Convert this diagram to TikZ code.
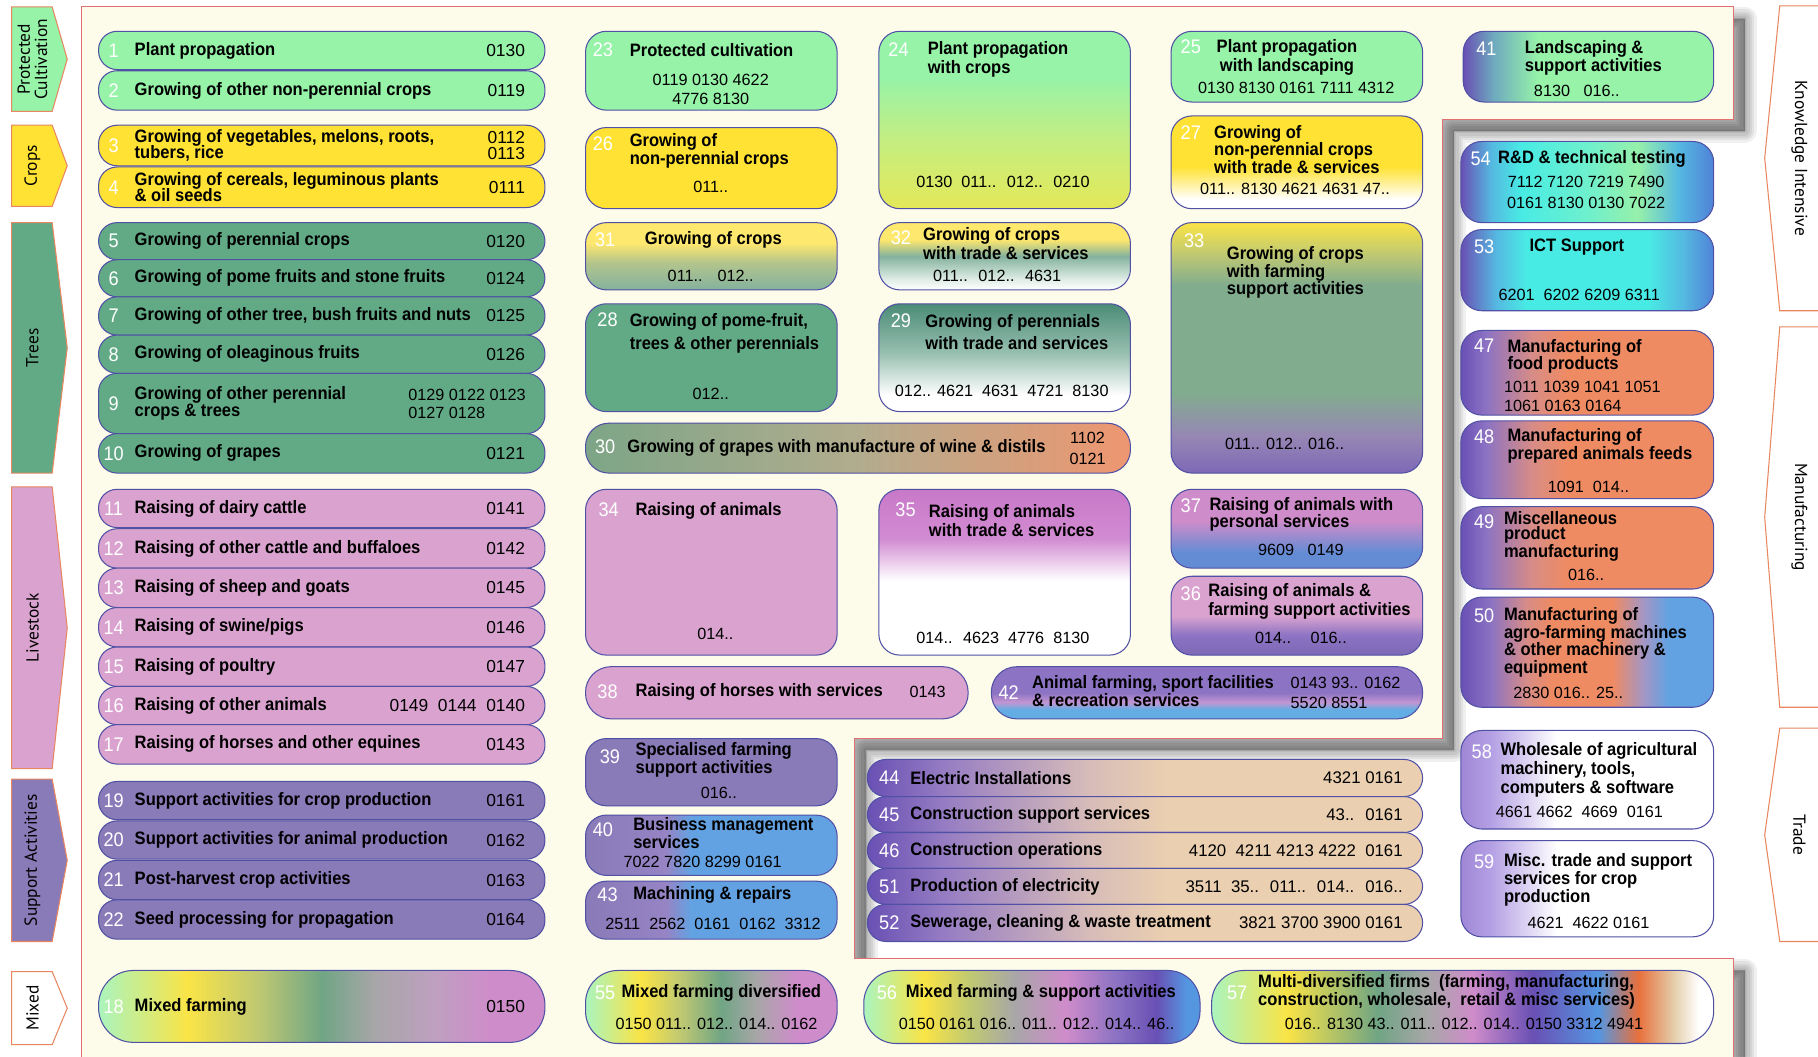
\documentclass[tikz,border=0pt]{standalone}
\usepackage{fontspec}
\setmainfont{Liberation Sans}[FakeStretch=0.92]
\newfontfamily\codefam{Liberation Sans}
\newfontfamily\tabfam{PT Sans}

\definecolor{lgreen}{RGB}{150,243,168}
\definecolor{cyel}{RGB}{255,226,52}
\definecolor{tgreen}{RGB}{98,170,134}
\definecolor{cpink}{RGB}{218,163,207}
\definecolor{cpurp}{RGB}{137,122,184}
\definecolor{cream}{RGB}{253,251,233}
\definecolor{ctan}{RGB}{234,207,176}
\definecolor{corange}{RGB}{239,139,99}
\definecolor{cblue}{RGB}{99,162,226}
\definecolor{ccyan}{RGB}{72,235,228}
\definecolor{bord}{RGB}{80,80,165}
\definecolor{pred}{RGB}{226,112,112}
\definecolor{tabor}{RGB}{232,135,95}
\definecolor{mint}{RGB}{170,244,190}
\definecolor{gyel}{RGB}{250,228,70}
\definecolor{olive}{RGB}{190,200,115}
\definecolor{mgreen}{RGB}{112,165,132}
\definecolor{mgray}{RGB}{168,166,168}
\definecolor{pgray}{RGB}{190,160,192}
\definecolor{mpink}{RGB}{207,140,202}
\definecolor{dviol}{RGB}{105,80,180}
\definecolor{violet}{RGB}{140,115,195}
\definecolor{gblue}{RGB}{85,150,225}
\definecolor{dorange}{RGB}{232,112,60}
\definecolor{ltan}{RGB}{228,205,170}
\definecolor{ggreen}{RGB}{132,178,158}
\definecolor{lyg}{RGB}{228,232,88}
\definecolor{ygreen}{RGB}{195,238,130}
\definecolor{ygr}{RGB}{178,196,140}
\definecolor{pyel}{RGB}{255,232,110}
\definecolor{pwhite}{RGB}{225,238,232}
\definecolor{teal}{RGB}{75,140,118}
\definecolor{lteal}{RGB}{150,190,175}
\definecolor{ggreen2}{RGB}{130,172,142}
\definecolor{lavgr}{RGB}{150,135,180}
\definecolor{ppurp}{RGB}{125,105,182}
\definecolor{magp}{RGB}{200,120,200}
\definecolor{magp2}{RGB}{210,140,210}
\definecolor{sblue}{RGB}{100,140,212}
\definecolor{pblue}{RGB}{100,172,228}
\definecolor{lpink}{RGB}{195,150,210}
\definecolor{ltpurp}{RGB}{160,135,215}
\definecolor{lpurp2}{RGB}{180,160,228}
\definecolor{cyb}{RGB}{85,185,225}
\definecolor{cgreen}{RGB}{150,240,170}
\definecolor{aqgreen}{RGB}{110,240,205}
\definecolor{dblue}{RGB}{80,130,215}
\definecolor{tealb}{RGB}{110,170,190}
\definecolor{morange}{RGB}{215,140,135}
\definecolor{lavb}{RGB}{165,150,195}
\definecolor{cpurp2}{RGB}{150,132,196}
\definecolor{lav}{RGB}{150,125,195}
\definecolor{rtan}{RGB}{215,188,185}
\definecolor{sgreen}{RGB}{125,165,135}
\definecolor{beige}{RGB}{178,172,142}
\definecolor{sorange}{RGB}{238,150,112}

% horizontal shadings (25bp = left, 75bp = right)
\pgfdeclarehorizontalshading{sh18}{100bp}{color(0bp)=(mint); color(25bp)=(mint); color(35bp)=(gyel); color(43bp)=(olive); color(50bp)=(mgreen); color(56bp)=(mgray); color(62.5bp)=(pgray); color(69bp)=(mpink); color(100bp)=(mpink)}
\pgfdeclarehorizontalshading{sh55}{100bp}{color(0bp)=(mint); color(25bp)=(mint); color(36bp)=(gyel); color(44bp)=(olive); color(52bp)=(mgreen); color(59bp)=(mgray); color(67bp)=(mpink); color(100bp)=(mpink)}
\pgfdeclarehorizontalshading{sh56}{100bp}{color(0bp)=(mint); color(25bp)=(mint); color(34bp)=(gyel); color(41bp)=(olive); color(47.5bp)=(mgray); color(55bp)=(mpink); color(62.5bp)=(violet); color(68.5bp)=(dviol); color(73bp)=(gblue); color(100bp)=(gblue)}
\pgfdeclarehorizontalshading{sh57}{100bp}{color(0bp)=(mint); color(25bp)=(mint); color(32.5bp)=(gyel); color(41.5bp)=(mgreen); color(46.5bp)=(mgray); color(51bp)=(mpink); color(57bp)=(dviol); color(63.5bp)=(gblue); color(67.5bp)=(dorange); color(71bp)=(ltan); color(73.5bp)=(white); color(100bp)=(white)}
\pgfdeclarehorizontalshading{sh41}{100bp}{color(0bp)=(dviol); color(25bp)=(dviol); color(31bp)=(tealb); color(40bp)=(lgreen); color(100bp)=(lgreen)}
\pgfdeclarehorizontalshading{sh54}{100bp}{color(0bp)=(dviol); color(25bp)=(dviol); color(31bp)=(cyb); color(37bp)=(ccyan); color(50bp)=(aqgreen); color(60bp)=(cgreen); color(68bp)=(cyb); color(75bp)=(dblue); color(100bp)=(dblue)}
\pgfdeclarehorizontalshading{sh53}{100bp}{color(0bp)=(dviol); color(25bp)=(dviol); color(32bp)=(cyb); color(38bp)=(ccyan); color(62bp)=(ccyan); color(69bp)=(cyb); color(75bp)=(dblue); color(100bp)=(dblue)}
\pgfdeclarehorizontalshading{sh47}{100bp}{color(0bp)=(dviol); color(25bp)=(dviol); color(30bp)=(violet); color(39bp)=(morange); color(46bp)=(corange); color(100bp)=(corange)}
\pgfdeclarehorizontalshading{sh50}{100bp}{color(0bp)=(dviol); color(25bp)=(dviol); color(31bp)=(violet); color(38bp)=(morange); color(43bp)=(corange); color(55bp)=(corange); color(61bp)=(lavb); color(66bp)=(cblue); color(100bp)=(cblue)}
\pgfdeclarehorizontalshading{sh58}{100bp}{color(0bp)=(ltpurp); color(25bp)=(ltpurp); color(31bp)=(lpurp2); color(44bp)=(white); color(100bp)=(white)}
\pgfdeclarehorizontalshading{sh40}{100bp}{color(0bp)=(cpurp); color(25bp)=(cpurp); color(41bp)=(cpurp2); color(46bp)=(cblue); color(100bp)=(cblue)}
\pgfdeclarehorizontalshading{sh44}{100bp}{color(0bp)=(dviol); color(25bp)=(dviol); color(32bp)=(lav); color(45bp)=(rtan); color(52bp)=(ctan); color(100bp)=(ctan)}
% vertical shadings (25bp = bottom, 75bp = top)
\pgfdeclareverticalshading{v24}{100bp}{color(0bp)=(lyg); color(25bp)=(lyg); color(45bp)=(ygreen); color(62bp)=(lgreen); color(100bp)=(lgreen)}
\pgfdeclareverticalshading{v31}{100bp}{color(0bp)=(ggreen); color(25bp)=(ggreen); color(45bp)=(ygr); color(60bp)=(pyel); color(100bp)=(pyel)}
\pgfdeclareverticalshading{v32}{100bp}{color(0bp)=(white); color(25bp)=(white); color(32.5bp)=(pwhite); color(50bp)=(ggreen); color(62.5bp)=(pyel); color(100bp)=(pyel)}
\pgfdeclareverticalshading{v29}{100bp}{color(0bp)=(white); color(32.5bp)=(white); color(52.5bp)=(lteal); color(75bp)=(teal); color(100bp)=(teal)}
\pgfdeclareverticalshading{v27}{100bp}{color(0bp)=(white); color(30bp)=(white); color(47.5bp)=(cyel); color(100bp)=(cyel)}
\pgfdeclareverticalshading{v33}{100bp}{color(0bp)=(ppurp); color(25bp)=(ppurp); color(32.5bp)=(lavgr); color(41bp)=(ggreen2); color(62.5bp)=(ggreen2); color(68.5bp)=(olive); color(75bp)=(gyel); color(100bp)=(gyel)}
\pgfdeclareverticalshading{v35}{100bp}{color(0bp)=(white); color(47.5bp)=(white); color(60bp)=(magp2); color(75bp)=(magp); color(100bp)=(magp)}
\pgfdeclareverticalshading{v37}{100bp}{color(0bp)=(sblue); color(35bp)=(sblue); color(55bp)=(mpink); color(100bp)=(mpink)}
\pgfdeclareverticalshading{v36}{100bp}{color(0bp)=(ppurp); color(25bp)=(ppurp); color(37.5bp)=(violet); color(50bp)=(cpink); color(100bp)=(cpink)}
\pgfdeclareverticalshading{v42}{100bp}{color(0bp)=(pblue); color(34bp)=(pblue); color(41bp)=(lpink); color(50bp)=(violet); color(100bp)=(violet)}

\newcommand\TF[1]{\fontsize{15.5}{#1}\selectfont\bfseries}
\newcommand\CF[1]{\codefam\fontsize{14}{#1}\selectfont}
\newcommand\CFR{\codefam\fontsize{15}{14}\selectfont}
\newcommand\CFC{\codefam\fontsize{14.5}{14}\selectfont}
\newcommand\NF{\fontsize{17}{17}\selectfont}

\tikzset{
  bx/.style={draw=bord,line width=0.9pt,rounded corners=18pt,inner sep=0pt,outer sep=0pt},
  rowp/.style={bx,rounded corners=16pt},
  nm/.style={text=white,font=\NF,inner sep=0pt},
  tt/.style={font=\TF{15},inner sep=0pt,align=left,anchor=west},
  cd/.style={font=\CF{16},inner sep=0pt,align=center},
  tabl/.style={draw=tabor,line width=0.9pt},
  tabt/.style={font=\tabfam\fontsize{15}{15}\selectfont,inner sep=0pt,align=center},
}

\newcommand\BX[6]{\node[bx,#6,minimum width={(#4-#2)*1pt},minimum height={(#5-#3)*1pt}] (#1) at ({(#2+#4)/2},{(#3+#5)/2}) {};}
\newcommand\ROW[7]{%
  \BX{#1}{85}{#2}{470}{#3}{rowp,#4}
  \node[nm] (#1n) at (98,{(#2+#3)/2}) {#5};
  \node[tt] (#1t) at (116,{(#2+#3)/2}) {#6};
  \node[cd,anchor=east,align=right,font=\CFR] (#1c) at (453,{(#2+#3)/2}) {#7};}
\newcommand\CROW[6]{%
  \BX{#1}{748}{#2}{1227}{#3}{rowp,shading=sh44}
  \node[nm] (#1n) at (767,{(#2+#3)/2}) {#4};
  \node[tt] (#1t) at (785,{(#2+#3)/2}) {#5};
  \node[cd,anchor=east,align=right,font=\CFC] (#1c) at (1210,{(#2+#3)/2}) {#6};}
\newcommand\TABL[5]{%
  \draw[tabl,fill=#4] (10,#2) -- (45,#2) -- (58,{(#2+#3)/2}) -- (45,#3) -- (10,#3) -- cycle;
  \node[tabt,rotate=90] (#1) at (28,{(#2+#3)/2}) {#5};}
\newcommand\TABR[4]{%
  \draw[tabl,fill=white] (1575,#2) -- (1535,#2) -- (1522,{(#2+#3)/2}) -- (1535,#3) -- (1575,#3);
  \node[tabt,rotate=-90] (#1) at (1552,{(#2+#3)/2}) {#4};}
\newcommand\PANEL{(70,6) -- (1495,6) -- (1495,103) -- (1244,103) -- (1244,637) -- (737,637) -- (737,827) -- (1495,827) -- (1495,925) -- (70,925) -- cycle}

\begin{document}
\begin{tikzpicture}[x=1pt,y=-1pt]
\useasboundingbox (0,0) rectangle (1568,911);
\fill[white] (0,0) rectangle (1568,911);

% side tabs
\TABL{tpc}{6}{96}{lgreen}{Protected\\Cultivation}
\TABL{tcr}{108}{178}{cyel}{Crops}
\TABL{ttr}{192}{408}{tgreen}{Trees}
\TABL{tli}{420}{663}{cpink}{Livestock}
\TABL{tsa}{672}{812}{cpurp}{Support Activities}
\TABL{tmx}{838}{901}{white}{Mixed}
\TABR{tki}{5}{268}{Knowledge Intensive}
\TABR{tma}{282}{610}{Manufacturing}
\TABR{ttd}{628}{812}{Trade}

% panel with soft shadow
\begin{scope}[shift={(10,10)}]
  \foreach \w in {20,16,12,8,4,1}
    \filldraw[black,opacity=0.06,line width=\w pt,line join=round] \PANEL;
\end{scope}
\filldraw[fill=cream,draw=pred,line width=0.9pt] \PANEL;

% left column rows
\ROW{r1}{27}{60}{fill=lgreen}{1}{Plant propagation}{0130}
\ROW{r2}{61}{95}{fill=lgreen}{2}{Growing of other non-perennial crops}{0119}
\ROW{r3}{108}{143}{fill=cyel}{3}{Growing of vegetables, melons, roots,\\[-1pt]tubers, rice}{0112\\0113}
\ROW{r4}{144}{179}{fill=cyel}{4}{Growing of cereals, leguminous plants\\[-1pt]\& oil seeds}{0111}
\ROW{r5}{192}{224}{fill=tgreen}{5}{Growing of perennial crops}{0120}
\ROW{r6}{224}{256}{fill=tgreen}{6}{Growing of pome fruits and stone fruits}{0124}
\ROW{r7}{256}{289}{fill=tgreen}{7}{Growing of other tree, bush fruits and nuts}{0125}
\ROW{r8}{289}{322}{fill=tgreen}{8}{Growing of oleaginous fruits}{0126}
\ROW{r9}{322}{374}{fill=tgreen}{9}{Growing of other perennial\\crops \& trees}{}
\node[cd,anchor=west,align=left,font=\CF{15}] (r9c2) at (352,348.5) {0129 0122 0123\\0127 0128};
\ROW{r10}{374}{408}{fill=tgreen}{10}{Growing of grapes}{0121}
\ROW{r11}{422}{455}{fill=cpink}{11}{Raising of dairy cattle}{0141}
\ROW{r12}{456}{490}{fill=cpink}{12}{Raising of other cattle and buffaloes}{0142}
\ROW{r13}{490}{524}{fill=cpink}{13}{Raising of sheep and goats}{0145}
\ROW{r14}{524}{558}{fill=cpink}{14}{Raising of swine/pigs}{0146}
\ROW{r15}{558}{592}{fill=cpink}{15}{Raising of poultry}{0147}
\ROW{r16}{592}{625}{fill=cpink}{16}{Raising of other animals}{0149~ 0144~ 0140}
\ROW{r17}{625}{659}{fill=cpink}{17}{Raising of horses and other equines}{0143}
\ROW{r19}{674}{707}{fill=cpurp}{19}{Support activities for crop production}{0161}
\ROW{r20}{708}{741}{fill=cpurp}{20}{Support activities for animal production}{0162}
\ROW{r21}{742}{776}{fill=cpurp}{21}{Post-harvest crop activities}{0163}
\ROW{r22}{776}{810}{fill=cpurp}{22}{Seed processing for propagation}{0164}
\ROW{r18}{837}{899}{shading=sh18,rounded corners=30pt}{18}{Mixed farming}{0150}

% column 2
\BX{b23}{505}{27}{722}{95}{fill=lgreen}
\node[nm] (b23n) at (520,43) {23};
\node[tt] (b23t) at (543,43) {Protected cultivation};
\node[cd] (b23c) at (613,77) {0119 0130 4622\\4776 8130};

\BX{b26}{505}{110}{722}{180}{fill=cyel}
\node[nm] (b26n) at (520,124) {26};
\node[tt,font=\TF{16}] (b26t) at (543,130) {Growing of\\non-perennial crops};
\node[cd] (b26c) at (613,161) {011..};

\BX{b31}{505}{192}{722}{250}{shading=v31}
\node[nm] (b31n) at (522,207) {31};
\node[tt] (b31t) at (556,207) {Growing of crops};
\node[cd] (b31c) at (613,238) {011..~~ 012..};

\BX{b28}{505}{262}{722}{355}{fill=tgreen}
\node[nm] (b28n) at (524,276) {28};
\node[tt,font=\TF{19}] (b28t) at (543,287.5) {Growing of pome-fruit,\\trees \& other perennials};
\node[cd] (b28c) at (613,340) {012..};

\BX{b30}{505}{365}{975}{408}{rounded corners=20pt,left color=sgreen,right color=sorange,middle color=beige}
\node[nm] (b30n) at (522,385) {30};
\node[tt] (b30t) at (541,386) {Growing of grapes with manufacture of wine \& distils};
\node[cd,font=\CF{18}] (b30c) at (938,387) {1102\\0121};

\BX{b34}{505}{422}{722}{565}{fill=cpink}
\node[nm] (b34n) at (525,440) {34};
\node[tt] (b34t) at (548,441) {Raising of animals};
\node[cd] (b34c) at (617,547) {014..};

\BX{b38}{505}{575}{835}{620}{fill=cpink,rounded corners=22pt}
\node[nm] (b38n) at (524,597) {38};
\node[tt] (b38t) at (548,597) {Raising of horses with services};
\node[cd] (b38c) at (800,597) {0143};

\BX{b39}{505}{637}{722}{695}{fill=cpurp}
\node[nm] (b39n) at (526,653) {39};
\node[tt,font=\TF{13}] (b39t) at (548,655.5) {Specialised farming\\support activities};
\node[cd] (b39c) at (620,684) {016..};

\BX{b40}{505}{703}{722}{755}{shading=sh40}
\node[nm] (b40n) at (520,716) {40};
\node[tt,font=\TF{13}] (b40t) at (546,718.5) {Business management\\services};
\node[cd] (b40c) at (606,743) {7022 7820 8299 0161};

\BX{b43}{505}{760}{722}{810}{shading=sh40}
\node[nm] (b43n) at (524,772) {43};
\node[tt] (b43t) at (546,772) {Machining \& repairs};
\node[cd] (b43c) at (615,797) {2511~ 2562~ 0161~ 0162~ 3312};

\BX{b55}{505}{837}{722}{900}{shading=sh55,rounded corners=28pt}
\node[nm] (b55n) at (522,856) {55};
\node[tt] (b55t) at (536,856) {Mixed farming diversified};
\node[cd] (b55c) at (618,883) {0150 011.. 012.. 014.. 0162};

% column 3
\BX{b24}{758}{27}{975}{180}{shading=v24}
\node[nm] (b24n) at (775,43) {24};
\node[tt,font=\TF{16}] (b24t) at (800,51) {Plant propagation\\with crops};
\node[cd] (b24c) at (865,157) {0130~ 011..~ 012..~ 0210};

\BX{b32}{758}{192}{975}{250}{shading=v32}
\node[nm] (b32n) at (777,205) {32};
\node[tt,font=\TF{16}] (b32t) at (796,210) {Growing of crops\\with trade \& services};
\node[cd] (b32c) at (860,238) {011..~ 012..~ 4631};

\BX{b29}{758}{262}{975}{355}{shading=v29}
\node[nm] (b29n) at (777,277) {29};
\node[tt,font=\TF{19}] (b29t) at (798,286.5) {Growing of perennials\\with trade and services};
\node[cd] (b29c) at (864,337) {012.. 4621~ 4631~ 4721~ 8130};

\BX{b35}{758}{422}{975}{565}{shading=v35}
\node[nm] (b35n) at (781,440) {35};
\node[tt,font=\TF{16}] (b35t) at (801,449) {Raising of animals\\with trade \& services};
\node[cd] (b35c) at (865,550) {014..~ 4623~ 4776~ 8130};

\BX{b42}{855}{575}{1227}{620}{shading=v42,rounded corners=22pt}
\node[nm] (b42n) at (870,597) {42};
\node[tt,font=\TF{16}] (b42t) at (890,596) {Animal farming, sport facilities\\\& recreation services};
\node[cd,anchor=west,align=left,font=\CF{17}] (b42c) at (1113,597.5) {0143 93.. 0162\\5520 8551};

% column 4
\BX{b25}{1010}{27}{1227}{88}{fill=lgreen}
\node[nm] (b25n) at (1027,40) {25};
\node[tt,anchor=center,align=center,font=\TF{17}] (b25t) at (1110,49.5) {Plant propagation\\with landscaping};
\node[cd] (b25c) at (1118,76) {0130 8130 0161 7111 4312};

\BX{b27}{1010}{100}{1227}{180}{shading=v27}
\node[nm] (b27n) at (1027,114) {27};
\node[tt] (b27t) at (1047,129) {Growing of\\non-perennial crops\\with trade \& services};
\node[cd] (b27c) at (1117,163) {011.. 8130 4621 4631 47..};

\BX{b33}{1010}{192}{1227}{408}{shading=v33}
\node[nm] (b33n) at (1030,208) {33};
\node[tt] (b33t) at (1058,235) {Growing of crops\\with farming\\support activities};
\node[cd] (b33c) at (1108,383) {011.. 012.. 016..};

\BX{b37}{1010}{422}{1227}{490}{shading=v37}
\node[nm] (b37n) at (1027,436) {37};
\node[tt] (b37t) at (1043,443.5) {Raising of animals with\\personal services};
\node[cd] (b37c) at (1122,474) {9609~~ 0149};

\BX{b36}{1010}{497}{1227}{565}{shading=v36}
\node[nm] (b36n) at (1027,512) {36};
\node[tt,font=\TF{16}] (b36t) at (1042,518.5) {Raising of animals \&\\farming support activities};
\node[cd] (b36c) at (1122,550) {014..~~~ 016..};

% column 5 top
\BX{b41}{1262}{27}{1478}{88}{shading=sh41}
\node[nm] (b41n) at (1282,42) {41};
\node[tt,font=\TF{16}] (b41t) at (1315,50) {Landscaping \&\\support activities};
\node[cd] (b41c) at (1360,78) {8130~~ 016..};

% right column
\BX{b54}{1260}{122}{1478}{192}{shading=sh54}
\node[nm] (b54n) at (1277,137) {54};
\node[tt] (b54t) at (1292,137) {R\&D \& technical testing};
\node[cd,font=\CF{18}] (b54c) at (1368,166) {7112 7120 7219 7490\\0161 8130 0130 7022};

\BX{b53}{1260}{198}{1478}{268}{shading=sh53}
\node[nm] (b53n) at (1280,213) {53};
\node[tt] (b53t) at (1319,213) {ICT Support};
\node[cd] (b53c) at (1362,254) {6201~ 6202 6209 6311};

\BX{b47}{1260}{285}{1478}{358}{shading=sh47}
\node[nm] (b47n) at (1280,298) {47};
\node[tt] (b47t) at (1300,307.5) {Manufacturing of\\food products};
\node[cd,anchor=west,align=left] (b47c) at (1297,342) {1011 1039 1041 1051\\1061 0163 0164};

\BX{b48}{1260}{363}{1478}{430}{shading=sh47}
\node[nm] (b48n) at (1280,377) {48};
\node[tt] (b48t) at (1300,384.5) {Manufacturing of\\prepared animals feeds};
\node[cd] (b48c) at (1370,420) {1091~ 014..};

\BX{b49}{1260}{437}{1478}{508}{shading=sh47}
\node[nm] (b49n) at (1280,450) {49};
\node[tt,font=\TF{13}] (b49t) at (1297,462.5) {Miscellaneous\\product\\manufacturing};
\node[cd] (b49c) at (1368,496) {016..};

\BX{b50}{1260}{515}{1478}{610}{shading=sh50}
\node[nm] (b50n) at (1280,531) {50};
\node[tt,font=\TF{15.3}] (b50t) at (1297,554) {Manufacturing of\\agro-farming machines\\\& other machinery \&\\equipment};
\node[cd,anchor=west] (b50c) at (1305,598) {2830 016.. 25..};

\BX{b58}{1260}{630}{1478}{715}{shading=sh58}
\node[nm] (b58n) at (1278,648) {58};
\node[tt,font=\TF{16}] (b58t) at (1294,664) {Wholesale of agricultural\\machinery, tools,\\computers \& software};
\node[cd,anchor=west] (b58c) at (1290,700) {4661 4662~ 4669~ 0161};

\BX{b59}{1260}{725}{1478}{808}{shading=sh58}
\node[nm] (b59n) at (1280,743) {59};
\node[tt,font=\TF{15.5}] (b59t) at (1297,758.5) {Misc. trade and support\\services for crop\\production};
\node[cd] (b59c) at (1370,796) {4621~ 4622 0161};

% cutout rows
\CROW{c44}{655}{687}{44}{Electric Installations}{4321 0161}
\CROW{c45}{687}{718}{45}{Construction support services}{43..~ 0161}
\CROW{c46}{718}{749}{46}{Construction operations}{4120~ 4211 4213 4222~ 0161}
\CROW{c51}{749}{780}{51}{Production of electricity}{3511~ 35..~ 011..~ 014..~ 016..}
\CROW{c52}{780}{812}{52}{Sewerage, cleaning \& waste treatment}{3821 3700 3900 0161}

% bottom row
\BX{b56}{745}{837}{1035}{900}{shading=sh56,rounded corners=28pt}
\node[nm] (b56n) at (765,856) {56};
\node[tt] (b56t) at (781,856) {Mixed farming \& support activities};
\node[cd] (b56c) at (894,883) {0150 0161 016.. 011.. 012.. 014.. 46..};

\BX{b57}{1045}{837}{1478}{900}{shading=sh57,rounded corners=28pt}
\node[nm] (b57n) at (1067,856) {57};
\node[tt] (b57t) at (1085,855.5) {Multi-diversified firms~ (farming, manufacturing,\\construction, wholesale,~ retail \& misc services)};
\node[cd,anchor=west] (b57c) at (1108,883) {016.. 8130 43.. 011.. 012.. 014.. 0150 3312 4941};
\end{tikzpicture}
\end{document}
